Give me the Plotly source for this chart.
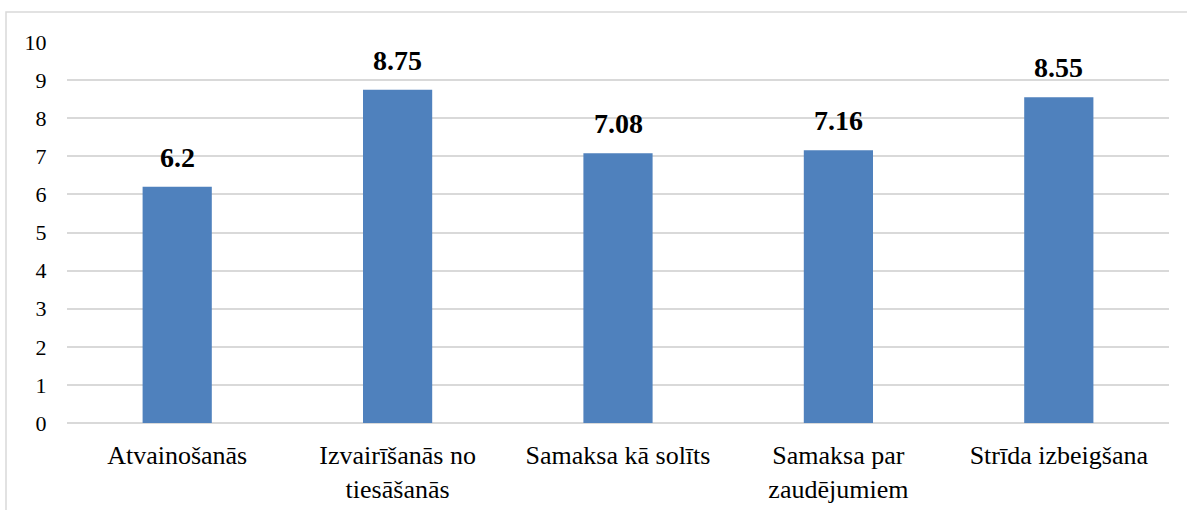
import plotly.graph_objects as go

categories = ['Atvainošanās', 'Izvairīšanās no<br>tiesāšanās', 'Samaksa kā solīts',
              'Samaksa par<br>zaudējumiem', 'Strīda izbeigšana']
values = [6.2, 8.75, 7.08, 7.16, 8.55]
y_ticks = list(range(0, 11))

serif = 'Liberation Serif'
grid_color = '#D9D9D9'
bar_color = '#4F81BD'

fig = go.Figure()
fig.add_trace(go.Bar(
    x=categories,
    y=values,
    marker=dict(color=bar_color, line=dict(width=0)),
    hoverinfo='x+y',
))

# value labels above the bars
for cat, val in zip(categories, values):
    fig.add_annotation(
        x=cat, y=val, text=str(val),
        showarrow=False, yanchor='bottom', yshift=12,
        font=dict(family=serif, size=28, color='black', weight='bold'),
    )

fig.update_layout(
    width=1187, height=510,
    margin=dict(l=67, r=18, t=42, b=87, autoexpand=False),
    paper_bgcolor='white',
    plot_bgcolor='white',
    showlegend=False,
    bargap=0.686,
    font=dict(family=serif, size=22, color='black'),
)

fig.update_yaxes(
    range=[0, 10],
    tickvals=y_ticks,
    automargin=False,
    showgrid=True, gridcolor=grid_color, gridwidth=1.5,
    zeroline=True, zerolinecolor=grid_color, zerolinewidth=1.5,
    showline=False,
    ticks='outside', ticklen=15, tickcolor='rgba(0,0,0,0)',
    tickfont=dict(family=serif, size=22, color='black'),
)
fig.update_xaxes(
    automargin=False,
    showgrid=False, showline=False,
    ticks='outside', ticklen=9, tickcolor='rgba(0,0,0,0)',
    tickfont=dict(family=serif, size=26, color='black'),
)

# outer chart border (cropped on the right and bottom in the reference)
fig.add_shape(
    type='rect', xref='paper', yref='paper',
    x0=(6 - 67) / 1102, x1=1.1, y0=-0.4, y1=1 + (42 - 12) / 381,
    line=dict(color=grid_color, width=1.5), fillcolor='rgba(0,0,0,0)',
    layer='below',
)

fig.write_html('out.html', config={'displayModeBar': False},
               post_script="document.body.style.margin='0';")
